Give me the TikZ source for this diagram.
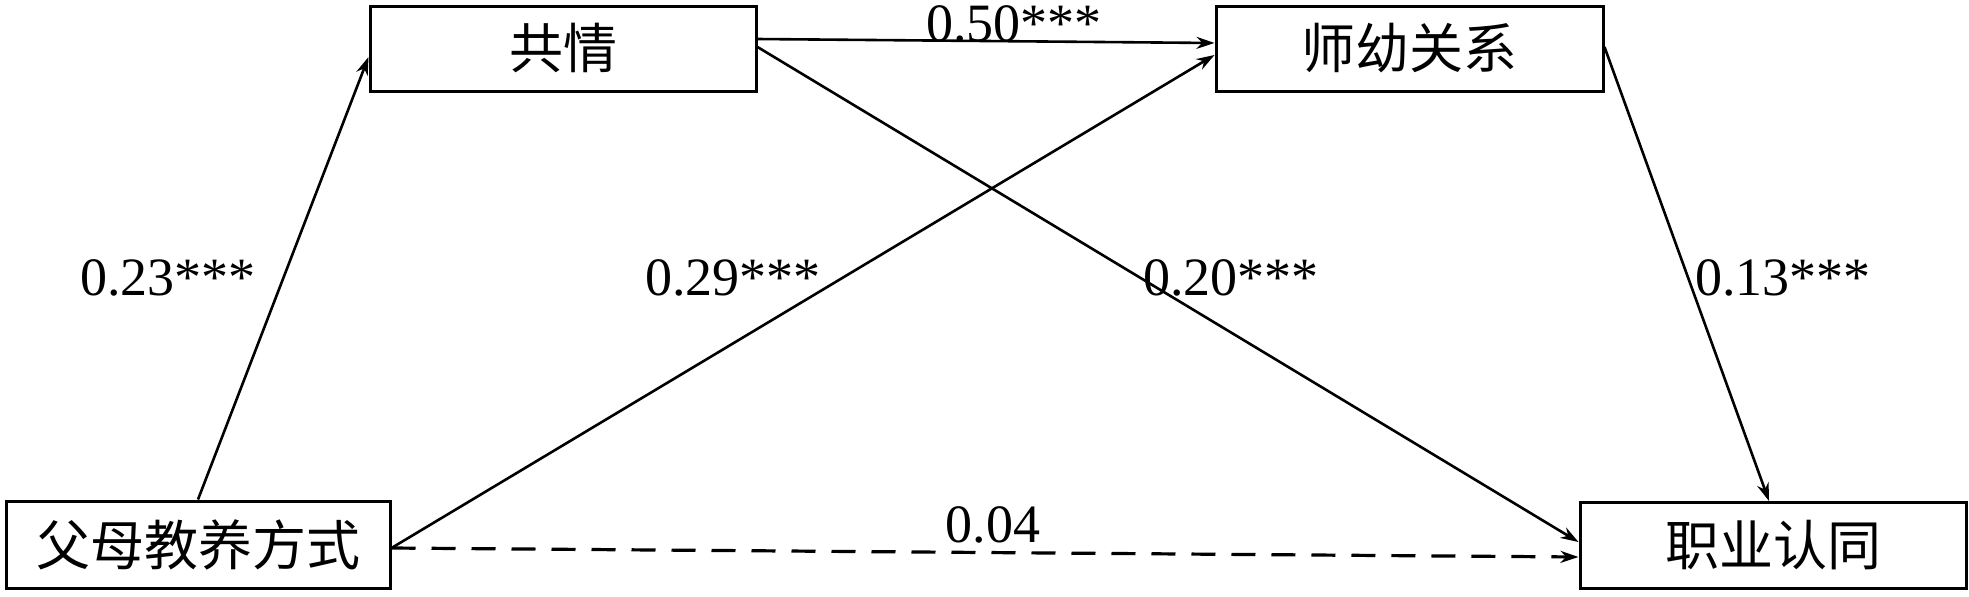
\documentclass[tikz,border=0pt]{standalone}
\usepackage{fontspec}
\setmainfont{Liberation Serif}
\newfontfamily\cjk{Noto Sans CJK SC}
\usetikzlibrary{calc,arrows.meta}
\begin{document}
\begin{tikzpicture}[x=0.5pt,y=-0.5pt,
  box/.style={draw,line width=1.5pt,inner sep=0pt,font=\cjk\fontsize{27}{30}\selectfont},
  arr/.style={line width=1.3pt,-{Stealth[length=9pt,width=6pt]}},
  dsh/.style={line width=1.6pt,dash pattern=on 12pt off 8pt,-{Stealth[length=9pt,width=6pt]}},
  lab/.style={anchor=base,inner sep=0pt,font=\fontsize{27}{30}\selectfont}]
\useasboundingbox (0,0) rectangle (1969,596);
\node[box,minimum width=193pt,minimum height=42.5pt] (gq) at (563,48.5) {共情};
\node[box,minimum width=193.5pt,minimum height=42.5pt] (sy) at (1409.5,48.5) {师幼关系};
\node[box,minimum width=192pt,minimum height=43.5pt] (fm) at (198,544.5) {父母教养方式};
\node[box,minimum width=193pt,minimum height=43pt] (zy) at (1773,545.5) {职业认同};
\draw[arr] (fm.north) -- ($(gq.west)+(0,-4.25pt)$);
\draw[arr] ($(gq.east)+(0,4.75pt)$) -- ($(sy.west)+(0,2.75pt)$);
\draw[arr] ($(fm.east)+(0,-1.75pt)$) -- ($(sy.west)+(0,-3.25pt)$);
\draw[arr] ($(gq.east)+(0,0.75pt)$) -- ($(zy.west)+(0,1.75pt)$);
\draw[arr] ($(sy.east)+(0,0.75pt)$) -- ($(zy.north)+(-2pt,0)$);
\draw[dsh] ($(fm.east)+(0,-1.75pt)$) -- ($(zy.west)+(0,-5.75pt)$);
\node[lab] (l1) at (1014,41) {0.50***};
\node[lab] (l2) at (168,295) {0.23***};
\node[lab] (l3) at (733,295) {0.29***};
\node[lab] (l4) at (1231,295) {0.20***};
\node[lab] (l5) at (1783,295) {0.13***};
\node[lab] (l6) at (993,542) {0.04};
\end{tikzpicture}
\end{document}
